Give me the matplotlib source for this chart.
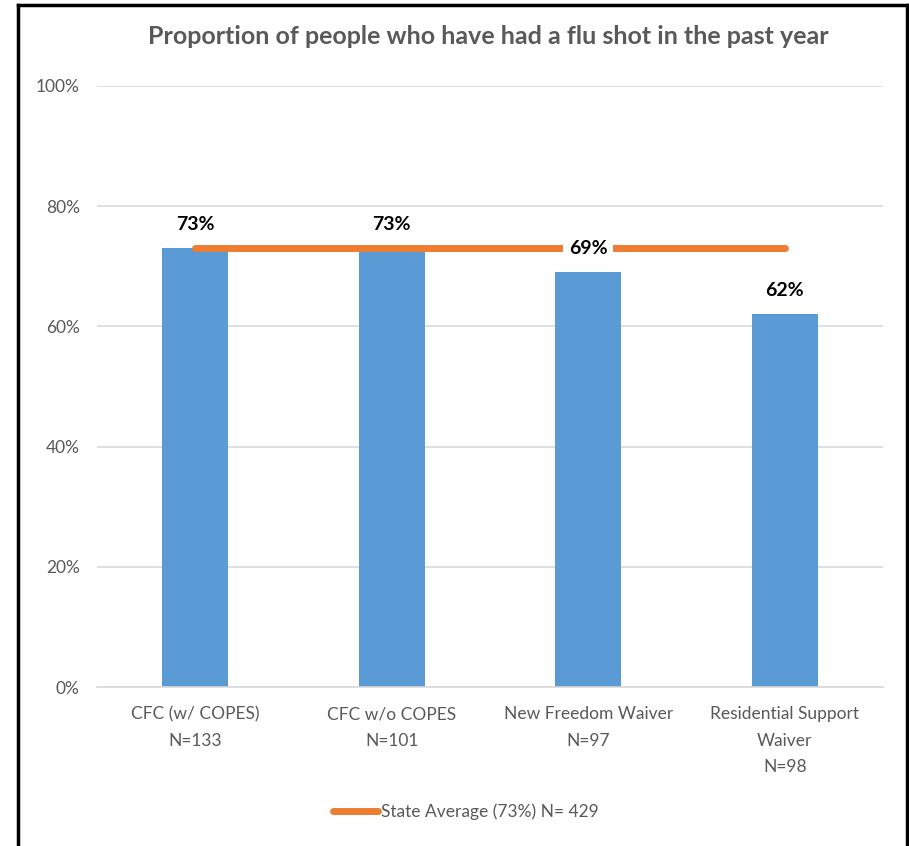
import matplotlib
matplotlib.use("Agg")
import matplotlib.pyplot as plt
from matplotlib.lines import Line2D

categories = ["CFC (w/ COPES)\nN=133", "CFC w/o COPES\nN=101", "New Freedom Waiver\nN=97", "Residential Support\nWaiver\nN=98"]
values = [0.73, 0.73, 0.69, 0.62]
value_labels = ["73%", "73%", "69%", "62%"]
state_avg = 0.73
legend_label = "State Average (73%) N= 429"
yticks = [0, 0.2, 0.4, 0.6, 0.8, 1.0]
ytick_labels = ["0%", "20%", "40%", "60%", "80%", "100%"]

plt.rcParams['font.family'] = ['Lato', 'DejaVu Sans']
W, H = 909, 846
fig = plt.figure(figsize=(W/100, H/100), dpi=100)
ax = fig.add_axes([97/W, 1-687/H, (883-97)/W, (687-86)/H])

gray = "#595959"
blue = "#5B9BD5"
orange = "#ED7D31"

x = list(range(len(categories)))
ax.bar(x, values, width=0.335, color=blue, zorder=2)
ax.plot([x[0], x[-1]], [state_avg]*2, color=orange, lw=5, solid_capstyle='round', zorder=3, label=legend_label)

for xi, v, lab in zip(x, values, value_labels):
    ax.text(xi, v + 0.04, lab, ha='center', va='center', fontsize=14, fontweight='bold',
            color='black', zorder=4,
            bbox=dict(boxstyle='square,pad=0.3', fc='white', ec='none'))

ax.set_xlim(-0.5, len(categories) - 0.5)
ax.set_ylim(0, 1)
ax.set_yticks(yticks)
ax.set_yticklabels(ytick_labels)
ax.set_xticks(x)
ax.set_xticklabels(categories, linespacing=1.8)
ax.tick_params(axis='both', length=0, colors=gray, labelsize=12.5)
ax.tick_params(axis='x', pad=14)
ax.tick_params(axis='y', pad=12.5)
ax.grid(axis='y', color='#D9D9D9', lw=1.2, zorder=0)
ax.set_axisbelow(True)
for s in ['top', 'right', 'left']:
    ax.spines[s].set_visible(False)
ax.spines['bottom'].set_color('#D9D9D9')
ax.spines['bottom'].set_linewidth(1.2)

fig.text(488/W, 1-37/H, "Proportion of people who have had a flu shot in the past year",
         ha='center', va='center', fontsize=18, fontweight='bold', color=gray)

leg = fig.legend(loc='center', bbox_to_anchor=(466/W, 1-812/H), frameon=False,
                 fontsize=12.5, handlelength=2.6, handletextpad=0.15, labelcolor=gray)

# outer frame
fig.add_artist(Line2D([17.5/W, 17.5/W], [0, 1-5/H], color='black', lw=2.5, transform=fig.transFigure))
fig.add_artist(Line2D([17.5/W, 906.5/W], [1-5/H, 1-5/H], color='black', lw=2.5, transform=fig.transFigure))
fig.add_artist(Line2D([906.5/W, 906.5/W], [0, 1-5/H], color='black', lw=2.5, transform=fig.transFigure))

fig.savefig("out.png", dpi=100, facecolor='white')
